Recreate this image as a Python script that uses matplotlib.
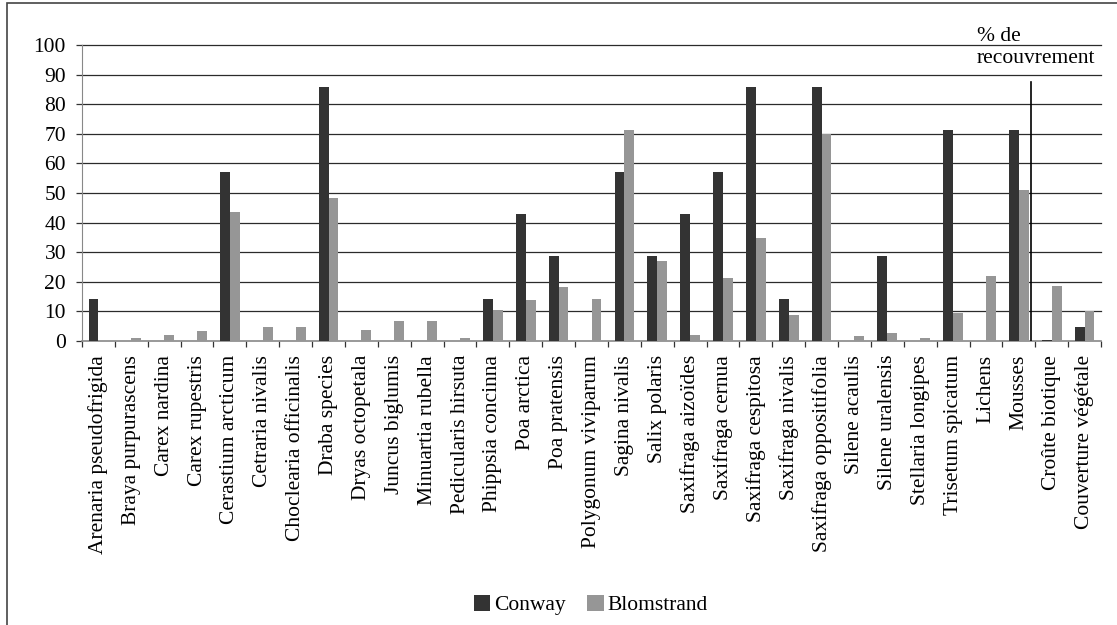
import numpy as np
import matplotlib
matplotlib.use("Agg")
import matplotlib.pyplot as plt
from matplotlib.patches import Rectangle

plt.rcParams['font.family'] = ['Liberation Serif', 'DejaVu Serif']

species = [
    "Arenaria pseudofrigida", "Braya purpurascens", "Carex nardina", "Carex rupestris",
    "Cerastium arcticum", "Cetraria nivalis", "Choclearia officinalis", "Draba species",
    "Dryas octopetala", "Juncus biglumis", "Minuartia rubella", "Pedicularis hirsuta",
    "Phippsia concinna", "Poa arctica", "Poa pratensis", "Polygonum viviparum",
    "Sagina nivalis", "Salix polaris", "Saxifraga aizoïdes", "Saxifraga cernua",
    "Saxifraga cespitosa", "Saxifraga nivalis", "Saxifraga oppositifolia", "Silene acaulis",
    "Silene uralensis", "Stellaria longipes", "Trisetum spicatum", "Lichens",
    "Mousses", "Croûte biotique", "Couverture végétale",
]
conway = [14.3, 0, 0, 0, 57.1, 0, 0, 85.7, 0, 0, 0, 0, 14.3, 42.9, 28.6, 0,
          57.1, 28.6, 42.9, 57.1, 85.7, 14.3, 85.7, 0, 28.6, 0, 71.4, 0, 71.4, 0.3, 4.7]
blomstrand = [0, 1.0, 2.0, 3.4, 43.6, 4.7, 4.7, 48.3, 3.7, 6.8, 6.8, 1.0, 10.5, 13.9, 18.2, 14.2,
              71.3, 27.0, 2.0, 21.3, 34.8, 8.8, 69.8, 1.7, 2.8, 1.0, 9.6, 22.0, 51.0, 18.6, 10.1]

FS = 15.5
W, H = 1117, 625
fig = plt.figure(figsize=(W / 100, H / 100), dpi=100)
ax = fig.add_axes([82 / W, 1 - 341 / H, (1101 - 82) / W, (341 - 45) / H])

x = np.arange(len(species))
ax.bar(x - 0.15, conway, width=0.3, color='#333333', label='Conway', zorder=3)
ax.bar(x + 0.15, blomstrand, width=0.3, color='#969696', label='Blomstrand', zorder=3)

ax.set_xlim(-0.5, len(species) - 0.5)
ax.set_ylim(0, 100)
ax.set_yticks(range(0, 101, 10))
for v in range(10, 101, 10):
    ax.axhline(v, color='#2b2b2b', lw=0.9, zorder=1, clip_on=False)

ax.set_xticks(x)
ax.set_xticklabels(species, rotation=90, fontsize=FS)
ax.set_xticks(np.arange(-0.5, len(species), 1), minor=True)
ax.tick_params(axis='x', which='major', length=0, pad=10)
ax.tick_params(axis='x', which='minor', length=4.5, color='#333333', width=0.9)
ax.tick_params(axis='y', length=4.5, color='#333333', width=0.9, labelsize=FS, pad=7)

for s in ('top', 'right'):
    ax.spines[s].set_visible(False)
ax.spines['left'].set_color('#888888')
ax.spines['bottom'].set_color('#888888')
ax.spines['bottom'].set_linewidth(1.2)

# separator between species and cover classes
ax.axvline(28.36, ymin=0, ymax=0.876, color='black', lw=1.2, zorder=4)
ax.text(26.73, 102.8, "% de", fontsize=FS, ha='left', va='center', clip_on=False)
ax.text(26.73, 95.3, "recouvrement", fontsize=FS, ha='left', va='center', clip_on=False)

fig.legend(loc='center', bbox_to_anchor=(591 / W, 1 - 605 / H), ncol=2, frameon=False,
           fontsize=FS, handlelength=0.75, handleheight=0.75, handletextpad=0.2,
           columnspacing=1.0)

fig.patches.append(Rectangle((7 / W, -0.1), 2, 1.1 - 3 / H, transform=fig.transFigure,
                             fill=False, edgecolor='#444444', lw=1.2))

fig.savefig("out.png", dpi=100)
